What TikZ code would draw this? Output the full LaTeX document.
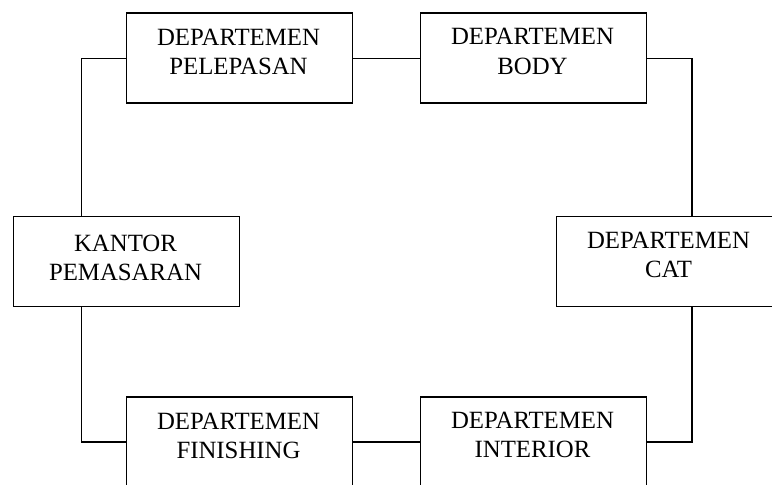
\documentclass[tikz,border=0pt]{standalone}
\usepackage{fontspec}
\setmainfont{Liberation Serif}
\begin{document}
\begin{tikzpicture}[x=0.75pt,y=-0.75pt,
  dept/.style={draw=black,line width=1.3pt,rectangle,minimum width=226*0.75pt,minimum height=90*0.75pt,inner sep=0pt,anchor=north west,fill=white},
  depttext/.style={anchor=north,inner sep=0pt,align=center,font=\fontsize{18.6}{22}\selectfont},
  conn/.style={draw=black,line width=1.1pt}]
\useasboundingbox (0,0) rectangle (772,485);
\clip (0,0) rectangle (772,485);
% boxes
\node[dept] (pel) at (125.5,12.5) {};
\node[dept] (body) at (419.5,12.5) {};
\node[dept] (kan) at (12.5,215.5) {};
\node[dept] (cat) at (555.5,215.5) {};
\node[dept] (fin) at (125.5,396) {};
\node[dept] (int) at (419.5,396) {};
% texts
\node[depttext] (tpel) at (238.5,29) {DEPARTEMEN\\PELEPASAN};
\node[depttext] (tbody) at (532.5,28.3) {DEPARTEMEN\\BODY};
\node[depttext] (tkan) at (125.5,234.5) {KANTOR\\PEMASARAN};
\node[depttext] (tcat) at (668.5,232) {DEPARTEMEN\\CAT};
\node[depttext] (tfin) at (238.5,413) {DEPARTEMEN\\FINISHING};
\node[depttext] (tint) at (532.5,411.5) {DEPARTEMEN\\INTERIOR};
% connectors
\draw[conn] (pel.west) -| ([xshift=-45*0.75pt]kan.north);
\draw[conn] (pel.east) -- (body.west);
\draw[conn] (body.east) -| ([xshift=22.5*0.75pt]cat.north);
\draw[conn] ([xshift=22.5*0.75pt]cat.south) |- (int.east);
\draw[conn] (int.west) -- (fin.east);
\draw[conn] (fin.west) -| ([xshift=-45*0.75pt]kan.south);
\end{tikzpicture}
\end{document}
